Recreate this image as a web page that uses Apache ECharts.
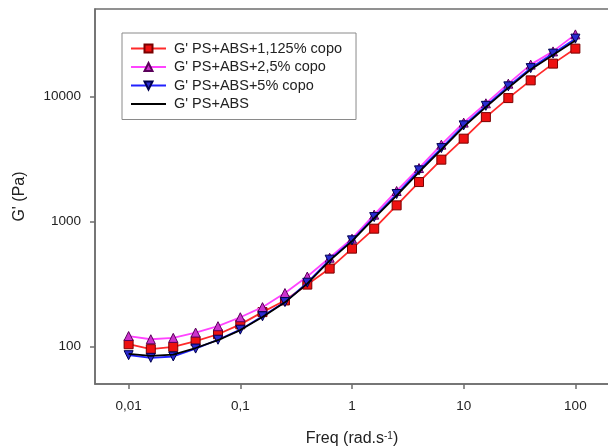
<!DOCTYPE html>
<html>
<head>
<meta charset="utf-8">
<script src="https://cdn.jsdelivr.net/npm/echarts@6/dist/echarts.min.js"></script>
<style>
html,body{margin:0;padding:0;background:#fff;}
#c{width:608px;height:446px;}
</style>
</head>
<body>
<div id="c"></div>
<script>
const freq = [0.01, 0.0158, 0.0251, 0.0398, 0.0631, 0.1, 0.158, 0.251, 0.398, 0.631, 1, 1.58, 2.51, 3.98, 6.31, 10, 15.8, 25.1, 39.8, 63.1, 100];
const g1125 = [104, 95, 99, 110, 125, 150, 188, 233, 312, 419, 605, 874, 1343, 2063, 3116, 4589, 6823, 9690, 13430, 18280, 24100];
const g25 = [121, 114, 117, 129, 145, 171, 206, 267, 362, 512, 727, 1132, 1750, 2670, 4111, 6166, 8800, 12640, 17950, 22900, 31330];
const g5 = [85, 81, 83, 96, 113, 136, 174, 226, 323, 494, 705, 1082, 1655, 2559, 3857, 5861, 8400, 12023, 16830, 21980, 28970];
const gBase = [87, 84, 86, 97, 112, 135, 172, 225, 318, 485, 695, 1060, 1610, 2480, 3750, 5700, 8200, 11700, 16400, 21400, 28000];
const seriesNames = ["G' PS+ABS+1,125% copo", "G' PS+ABS+2,5% copo", "G' PS+ABS+5% copo", "G' PS+ABS"];
const xTickLabels = {0.01: '0,01', 0.1: '0,1', 1: '1', 10: '10', 100: '100'};
const yTickLabels = {100: '100', 1000: '1000', 10000: '10000'};

function pairs(ys){ return freq.map((f,i)=>[f, ys[i]]); }
const FONT = 'Liberation Sans, Arial, sans-serif';
const chart = echarts.init(document.getElementById('c'), null, {renderer:'canvas'});
chart.setOption({
  animation: false,
  backgroundColor: '#fff',
  textStyle: {fontFamily: FONT},
  grid: {left: 95, top: 9, width: 514, height: 375, containLabel: false, outerBoundsMode: 'none',
    show: true, borderColor: '#6e6e6e', borderWidth: 1.5, backgroundColor: 'transparent'},
  legend: {
    orient: 'vertical', left: 122, top: 33,
    padding: [8, 14, 8, 8],
    itemWidth: 35, itemHeight: 10, itemGap: 3.5,
    borderColor: '#8a8a8a', borderWidth: 1,
    textStyle: {fontSize: 14.5, color: '#222', fontFamily: FONT, padding: [0,0,0,3]},
    data: [seriesNames[0], seriesNames[1], seriesNames[2], {name: seriesNames[3], itemStyle: {opacity: 0}}]
  },
  xAxis: {
    type: 'log', logBase: 10, min: 0.005, max: 200,
    name: 'Freq (rad.s{sup|-1})', nameLocation: 'middle', nameGap: 47,
    nameTextStyle: {fontSize: 16, color: '#222', fontFamily: FONT,
      rich: {sup: {fontSize: 10, color: '#222', verticalAlign: 'top', padding: [0,0,4,0], fontFamily: FONT}}},
    axisLine: {show: true, lineStyle: {color: '#6e6e6e', width: 1.5}},
    axisTick: {show: true, inside: false, length: 5, lineStyle: {color: '#6e6e6e', width: 1.5}},
    axisLabel: {show: true, margin: 15, fontSize: 13.5, color: '#222', fontFamily: FONT,
      showMinLabel: false, showMaxLabel: false,
      formatter: v => { const k = Number(v.toPrecision(6)); return xTickLabels[k] !== undefined ? xTickLabels[k] : ''; }},
    splitLine: {show: false}, minorTick: {show: false}
  },
  yAxis: {
    type: 'log', logBase: 10, min: 50, max: 50000,
    name: "G' (Pa)", nameLocation: 'middle', nameGap: 67, nameRotate: 90,
    nameTextStyle: {fontSize: 16, color: '#222', fontFamily: FONT},
    axisLine: {show: true, lineStyle: {color: '#6e6e6e', width: 1.5}},
    axisTick: {show: true, inside: false, length: 5, lineStyle: {color: '#6e6e6e', width: 1.5}},
    axisLabel: {show: true, margin: 14, fontSize: 13.5, color: '#222', fontFamily: FONT,
      showMinLabel: false, showMaxLabel: false,
      formatter: v => { const k = Math.round(v); return yTickLabels[k] !== undefined ? yTickLabels[k] : ''; }},
    splitLine: {show: false}, minorTick: {show: false}
  },
  series: [
    {name: seriesNames[0], type: 'line', data: pairs(g1125), symbol: 'rect', symbolSize: 9,
      lineStyle: {color: '#ff2a2a', width: 1.8}, itemStyle: {color: '#ee1111', borderColor: '#7a0000', borderWidth: 1}, z: 2},
    {name: seriesNames[1], type: 'line', data: pairs(g25), symbol: 'triangle', symbolSize: 9,
      lineStyle: {color: '#ff44ff', width: 1.8}, itemStyle: {color: '#cc33cc', borderColor: '#5a005a', borderWidth: 1}, z: 3},
    {name: seriesNames[2], type: 'line', data: pairs(g5), symbol: 'triangle', symbolRotate: 180, symbolSize: 9,
      lineStyle: {color: '#2222ff', width: 1.8}, itemStyle: {color: '#2a2ad0', borderColor: '#000050', borderWidth: 1}, z: 4},
    {name: seriesNames[3], type: 'line', data: pairs(gBase), symbol: 'none', showSymbol: false,
      lineStyle: {color: '#000000', width: 1.8}, itemStyle: {color: '#000000'}, z: 5}
  ]
});
</script>
</body>
</html>
